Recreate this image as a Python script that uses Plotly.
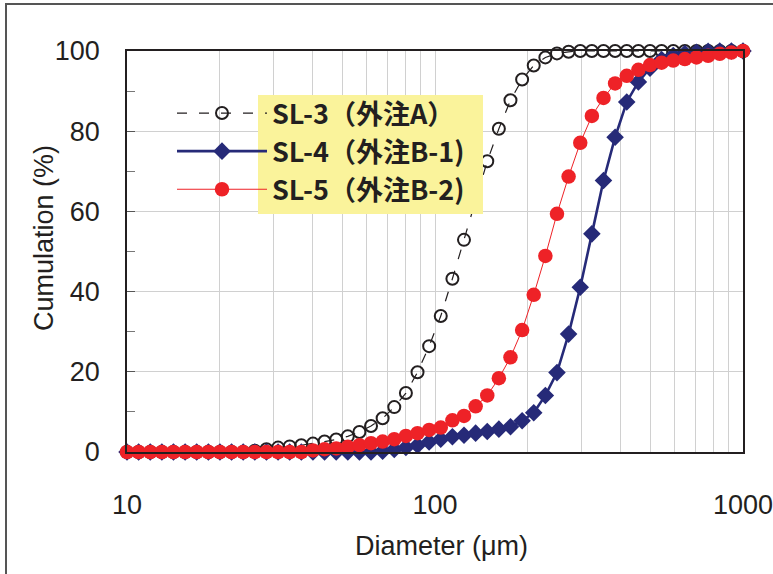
import plotly.graph_objects as go

# Particle diameter bins (µm)
diameter_um = [10.0, 10.91, 11.90, 12.98, 14.15, 15.44, 16.84, 18.37, 20.03, 21.85,
               23.84, 26.00, 28.36, 30.94, 33.74, 36.81, 40.15, 43.79, 47.77, 52.10,
               56.83, 61.98, 67.61, 73.75, 80.45, 87.75, 95.72, 104.4, 113.9, 124.2,
               135.5, 147.8, 161.2, 175.8, 191.8, 209.2, 228.2, 248.9, 271.5, 296.2,
               323.1, 352.4, 384.4, 419.3, 457.4, 498.9, 544.2, 593.6, 647.5, 706.3,
               770.4, 840.4, 916.7, 1000.0]

# Cumulative distribution (%)
sl3 = [0, 0, 0, 0, 0, 0, 0, 0, 0, 0,
       0, 0.3, 0.7, 1.1, 1.4, 1.7, 2.1, 2.6, 3.1, 3.9,
       5.0, 6.5, 8.4, 11.2, 14.7, 19.9, 26.4, 33.9, 43.2, 52.9,
       63.0, 72.5, 80.6, 87.7, 92.9, 96.4, 98.4, 99.4, 99.8, 100,
       100, 100, 100, 100, 100, 100, 100, 100, 100, 100,
       100, 100, 100, 100]

sl4 = [0, 0, 0, 0, 0, 0, 0, 0, 0, 0,
       0, 0, 0, 0, 0, 0, 0, 0, 0, 0,
       0, 0, 0.2, 0.6, 1.1, 1.7, 2.5, 3.2, 3.8, 4.2,
       4.7, 5.1, 5.7, 6.3, 7.8, 9.8, 14.1, 19.8, 29.4, 41.1,
       54.4, 67.7, 78.5, 87.3, 92.3, 95.7, 97.9, 98.9, 99.4, 99.7,
       99.9, 100, 100, 100]

sl5 = [0, 0, 0, 0, 0, 0, 0, 0, 0, 0,
       0, 0, 0, 0, 0, 0, 0.4, 0.7, 0.9, 1.3,
       1.7, 2.2, 2.6, 3.2, 4.0, 4.7, 5.5, 6.1, 7.9, 9.0,
       11.4, 14.1, 18.4, 23.6, 30.4, 39.2, 48.9, 59.4, 68.7, 77.1,
       83.8, 88.3, 91.9, 93.8, 95.3, 96.5, 97.1, 97.6, 98.0, 98.4,
       98.8, 99.3, 99.6, 100]

series_names = ["SL-3（外注A）", "SL-4（外注B-1)", "SL-5（外注B-2)"]
x_title = "Diameter (μm)"
y_title = "Cumulation (%)"

x_tick_vals = [10, 100, 1000]
x_tick_text = ["10", "100", "1000"]
x_minor_vals = [20, 30, 40, 50, 60, 70, 80, 90, 200, 300, 400, 500, 600, 700, 800, 900]

W, H = 773, 574
ML, MR, MT, MB = 127, 30, 51, 122
PW, PH = W - ML - MR, H - MT - MB

def px_x(p):
    return (p - ML) / PW

def px_y(p):
    return 1 - (p - MT) / PH

BLACK = "#231F20"
NAVY = "#262A78"
RED = "#EE2227"
TICKFONT = dict(family="Liberation Sans, Arial, sans-serif", size=27, color=BLACK)
TITLEFONT = dict(family="Liberation Sans, Arial, sans-serif", size=27, color=BLACK)

fig = go.Figure()
fig.add_trace(go.Scatter(
    x=diameter_um, y=sl3, name=series_names[0], mode="lines+markers",
    line=dict(color=BLACK, width=1.2, dash="10px,12px"),
    marker=dict(symbol="circle-open", size=12, color=BLACK, line=dict(width=2)),
    cliponaxis=False, legendgroup="a"))
fig.add_trace(go.Scatter(
    x=diameter_um, y=sl4, name=series_names[1], mode="lines+markers",
    line=dict(color=NAVY, width=2.6),
    marker=dict(symbol="diamond", size=13.5, color=NAVY),
    cliponaxis=False, legendgroup="b"))
fig.add_trace(go.Scatter(
    x=diameter_um, y=sl5, name=series_names[2], mode="lines+markers",
    line=dict(color=RED, width=1),
    marker=dict(symbol="circle", size=14.5, color=RED),
    cliponaxis=False, legendgroup="c"))

fig.update_layout(
    width=W, height=H,
    margin=dict(l=ML, r=MR, t=MT, b=MB, autoexpand=False),
    paper_bgcolor="white", plot_bgcolor="white",
    showlegend=True,
    legend=dict(
        x=px_x(172), y=px_y(89), xanchor="left", yanchor="top",
        bgcolor="rgba(0,0,0,0)", borderwidth=0,
        font=dict(family="Noto Sans CJK JP, sans-serif", size=27, color=BLACK, weight="bold"),
        itemwidth=90, tracegroupgap=8, traceorder="normal",
    ),
    xaxis=dict(
        type="log", range=[1, 3], automargin=False,
        tickmode="array", tickvals=x_tick_vals, ticktext=x_tick_text,
        ticks="", showgrid=True, gridcolor="#D0D0D0", gridwidth=1,
        minor=dict(tickmode="array", tickvals=x_minor_vals, showgrid=True,
                   gridcolor="#D0D0D0", gridwidth=1, ticks=""),
        showline=True, linecolor=BLACK, linewidth=1.5, mirror=True,
        tickfont=TICKFONT, ticklabelstandoff=28, ticklabeloverflow="allow",
        zeroline=False,
    ),
    yaxis=dict(
        range=[0, 100], tickmode="linear", tick0=0, dtick=20, automargin=False,
        ticks="inside", ticklen=8, tickcolor="#555555", tickwidth=1,
        showgrid=True, gridcolor="#D0D0D0", gridwidth=1,
        minor=dict(dtick=10, ticks="inside", ticklen=8, tickcolor="#777777", showgrid=False),
        showline=True, linecolor=BLACK, linewidth=1.5, mirror=True,
        tickfont=TICKFONT, ticklabelstandoff=20, ticklabeloverflow="allow",
        zeroline=False,
    ),
    annotations=[
        dict(text=x_title, xref="paper", yref="paper", x=px_x(441), y=px_y(546),
             xanchor="center", yanchor="middle", showarrow=False, font=TITLEFONT),
        dict(text=y_title, xref="paper", yref="paper", x=px_x(44), y=px_y(238),
             xanchor="center", yanchor="middle", showarrow=False, textangle=-90, font=TITLEFONT),
    ],
    shapes=[
        dict(type="rect", xref="paper", yref="paper",
             x0=px_x(258), x1=px_x(483), y0=px_y(214), y1=px_y(95),
             fillcolor="#FAF39B", line=dict(width=0), layer="above"),
        dict(type="path", xref="paper", yref="paper",
             path=f"M {px_x(6)},{px_y(580)} L {px_x(6)},{px_y(4)} L {px_x(780)},{px_y(4)}",
             line=dict(color="#555555", width=2), layer="above"),
    ],
)

fig.write_html("out.html", config={"displayModeBar": False},
               post_script="document.body.style.margin='0';document.body.style.overflow='hidden';")
